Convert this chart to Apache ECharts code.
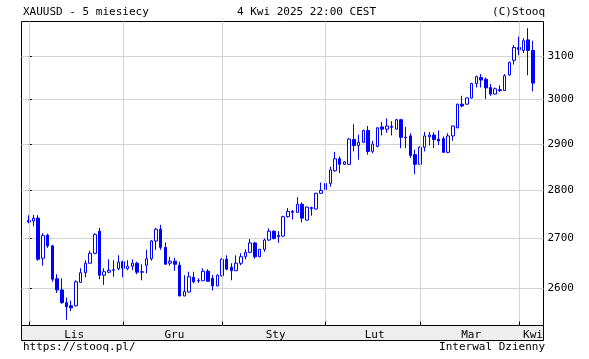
<!DOCTYPE html>
<html><head><meta charset="utf-8">
<script src="https://cdn.jsdelivr.net/npm/echarts@6/dist/echarts.min.js"></script>
<style>html,body{margin:0;padding:0;background:#fff}#c{width:589px;height:359px}</style>
</head><body><div id="c"></div>
<script>
// Month labels (Polish) and index of first trading day of each month
const monthLabels = ['Lis', 'Gru', 'Sty', 'Lut', 'Mar', 'Kwi'];
const monthStarts = [0, 20, 41, 63, 83, 104];
const yTicks = [2600, 2700, 2800, 2900, 3000, 3100];

// Daily OHLC, XAUUSD, 4 Nov 2024 .. 4 Apr 2025
const opens = [2737,2736,2742,2660,2707,2685,2619,2597,2572,2566,2566,2612,2631,2650,2670,2715,2626,2632,2636,2639,
  2653,2639,2644,2650,2632,2646,2659,2695,2719,2682,2650,2654,2646,2585,2593,2622,2615,2615,2634,2620,2605,
  2625,2658,2642,2635,2650,2663,2672,2691,2663,2678,2697,2715,2706,2705,2745,2756,2754,2771,2738,2764,2761,2794,
  2802,2815,2842,2868,2856,2856,2910,2897,2904,2930,2884,2895,2938,2933,2939,2933,2954,2915,2918,2877,
  2856,2893,2916,2920,2911,2912,2882,2918,2936,2989,2989,3003,3036,3050,3046,3027,3012,3022,3020,3056,3090,
  3120,3113,3138,3113];
const closes = [2734,2742,2658,2706,2685,2618,2597,2572,2564,2562,2613,2631,2650,2670,2708,2626,2633,2636,2637,2652,
  2640,2644,2650,2632,2633,2659,2695,2719,2682,2648,2654,2648,2585,2594,2623,2613,2616,2634,2614,2605,2626,
  2658,2638,2635,2650,2663,2672,2691,2663,2678,2697,2715,2700,2704,2745,2756,2754,2771,2742,2765,2762,2794,2800,
  2815,2844,2868,2856,2861,2911,2897,2904,2930,2884,2900,2936,2933,2940,2937,2954,2915,2914,2875,2856,
  2893,2918,2920,2910,2907,2882,2918,2940,2989,2985,3003,3036,3052,3044,3026,3012,3024,3020,3054,3085,3120,
  3115,3136,3113,3037];
const lows = [2731,2725,2655,2645,2681,2613,2591,2570,2539,2556,2565,2611,2622,2650,2668,2618,2607,2630,2623,2636,
  2622,2636,2636,2628,2616,2630,2655,2677,2677,2648,2645,2635,2585,2585,2592,2610,2611,2615,2613,2596,2604,
  2623,2636,2616,2635,2646,2658,2670,2659,2662,2673,2695,2698,2691,2703,2743,2739,2754,2733,2737,2747,2760,2793,
  2774,2808,2840,2837,2855,2855,2884,2866,2902,2877,2880,2893,2919,2925,2919,2932,2891,2891,2870,2835,
  2855,2884,2897,2891,2898,2881,2880,2907,2935,2982,2988,3002,3027,3027,3001,3008,3011,3017,3019,3054,3080,
  3102,3107,3055,3018];
const highs = [2748,2749,2748,2711,2710,2687,2628,2620,2582,2576,2616,2640,2656,2675,2711,2722,2640,2658,2656,2666,
  2655,2656,2658,2653,2648,2677,2697,2722,2728,2692,2663,2661,2653,2626,2633,2633,2620,2640,2638,2627,2628,
  2660,2666,2650,2666,2670,2678,2699,2693,2679,2700,2721,2717,2715,2747,2763,2759,2786,2775,2766,2766,2795,2817,
  2833,2851,2883,2873,2863,2913,2944,2921,2932,2940,2907,2937,2949,2957,2951,2956,2956,2938,2924,2888,
  2895,2927,2927,2926,2930,2917,2924,2941,2990,3008,3004,3038,3054,3058,3050,3035,3027,3032,3058,3087,3126,
  3146,3142,3166,3136];

const X_MIN = -1.55, X_MAX = 109.25;
const Y_MIN = 2528, Y_MAX = 3182;
const FONT = 'DejaVu Sans Mono';
const BLUE = '#0000ff';

const candles = opens.map((o, i) => [i, o, closes[i], lows[i], highs[i]]);
const bounds = [X_MIN].concat(monthStarts.slice(1), [X_MAX]);
const labelPos = monthLabels.map((m, i) => +(((i === 0 ? X_MIN : monthStarts[i]) + bounds[i + 1]) / 2 + 0.4).toFixed(2));

const chart = echarts.init(document.getElementById('c'), null, {renderer: 'canvas'});
chart.setOption({
  animation: false,
  backgroundColor: '#fff',
  grid: {left: 21.5, right: 45.5, top: 21.5, bottom: 33.5, show: true, borderColor: '#000', borderWidth: 1, backgroundColor: '#fff'},
  xAxis: [{
    type: 'value', min: X_MIN, max: X_MAX, position: 'bottom', z: 10,
    axisLine: {show: false},
    axisTick: {show: true, inside: true, length: 4, lineStyle: {color: '#000'}, customValues: monthStarts},
    splitLine: {show: true, lineStyle: {color: '#d4d4d4', width: 1}},
    axisLabel: {
      customValues: labelPos, margin: 4, color: '#000', fontFamily: FONT, fontSize: 11,
      formatter: v => {
        let best = 0;
        labelPos.forEach((p, i) => { if (Math.abs(p - v) < Math.abs(labelPos[best] - v)) best = i; });
        return monthLabels[best];
      }
    }
  }, {
    type: 'value', min: X_MIN, max: X_MAX, position: 'top',
    axisLine: {show: false},
    axisTick: {show: true, inside: true, length: 4, lineStyle: {color: '#000'}, customValues: monthStarts},
    splitLine: {show: false},
    axisLabel: {show: false}
  }],
  yAxis: {
    type: 'log', logBase: 10, min: Y_MIN, max: Y_MAX, position: 'right',
    axisLine: {show: true, lineStyle: {color: '#000'}},
    axisTick: {show: true, inside: false, length: 3, lineStyle: {color: '#000'}, customValues: yTicks},
    splitLine: {show: true, lineStyle: {color: '#d4d4d4', width: 1}},
    axisLabel: {customValues: yTicks, margin: 4, color: '#000', fontFamily: FONT, fontSize: 11, formatter: v => String(Math.round(v))}
  },
  graphic: [
    {type: 'rect', z: -1, shape: {x: 21.5, y: 325.5, width: 522, height: 15}, style: {fill: '#eeeeee', stroke: '#000', lineWidth: 1}},
    {type: 'text', left: 23, top: 7, style: {text: 'XAUUSD - 5 miesiecy', font: '11px ' + FONT, fill: '#000'}},
    {type: 'text', left: 237, top: 7, style: {text: '4 Kwi 2025 22:00 CEST', font: '11px ' + FONT, fill: '#000'}},
    {type: 'text', right: 44, top: 7, style: {text: '(C)Stooq', font: '11px ' + FONT, fill: '#000'}},
    {type: 'text', left: 23, top: 342, style: {text: 'https://stooq.pl/', font: '11px ' + FONT, fill: '#000'}},
    {type: 'text', right: 44, top: 342, style: {text: 'Interwal Dzienny', font: '11px ' + FONT, fill: '#000'}}
  ],
  series: [{
    type: 'candlestick', xAxisIndex: 0, yAxisIndex: 0, barWidth: 3, z: 5,
    data: candles,
    itemStyle: {color: '#ffffff', color0: BLUE, borderColor: BLUE, borderColor0: BLUE, borderColorDoji: BLUE, borderWidth: 1}
  }]
});
</script></body></html>
